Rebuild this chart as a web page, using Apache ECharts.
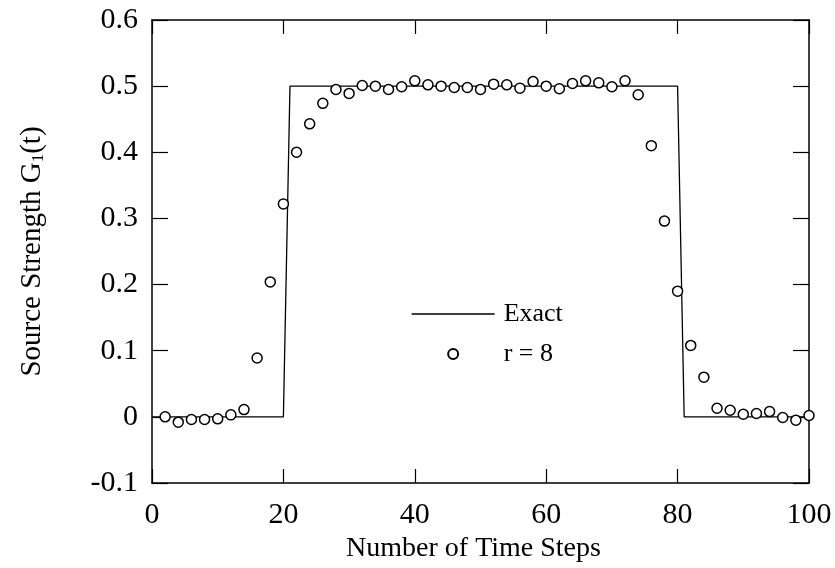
<!DOCTYPE html>
<html>
<head>
<meta charset="utf-8">
<script src="https://cdn.jsdelivr.net/npm/echarts@6/dist/echarts.min.js"></script>
<style>
  html, body { margin: 0; padding: 0; background: #fff; }
  #chart { width: 835px; height: 568px; }
</style>
</head>
<body>
<div id="chart"></div>
<script>
// ---- Data ----
const exactX = [0, 20, 21, 80, 81, 100];
const exactY = [0, 0, 0.5, 0.5, 0, 0];

const stepX = [2, 4, 6, 8, 10, 12, 14, 16, 18, 20,
               22, 24, 26, 28, 30, 32, 34, 36, 38, 40,
               42, 44, 46, 48, 50, 52, 54, 56, 58, 60,
               62, 64, 66, 68, 70, 72, 74, 76, 78, 80,
               82, 84, 86, 88, 90, 92, 94, 96, 98, 100];
const r8Y = [0.000, -0.008, -0.004, -0.004, -0.003, 0.003, 0.011, 0.089, 0.204, 0.322,
             0.400, 0.443, 0.474, 0.495, 0.489, 0.501, 0.500, 0.495, 0.499, 0.508,
             0.502, 0.500, 0.498, 0.498, 0.495, 0.503, 0.502, 0.497, 0.507, 0.500,
             0.496, 0.504, 0.508, 0.505, 0.499, 0.508, 0.487, 0.410, 0.296, 0.190,
             0.108, 0.060, 0.013, 0.010, 0.004, 0.005, 0.008, -0.001, -0.005, 0.002];

const xTickLabels = ['0', '20', '40', '60', '80', '100'];
const yTickLabels = ['-0.1', '0', '0.1', '0.2', '0.3', '0.4', '0.5', '0.6'];

const seriesNames = ['Exact', 'r = 8'];
const xAxisTitle = 'Number of Time Steps';
const yAxisTitle = '{a|Source Strength G}{s|1}{a|(t)}';

// ---- Chart ----
const FONT = 'Liberation Serif';
const chart = echarts.init(document.getElementById('chart'));

const exactData = exactX.map((x, i) => [x, exactY[i]]);
const r8Data = stepX.map((x, i) => [x, r8Y[i]]);

const axisLine = { show: true, onZero: false, lineStyle: { color: '#000', width: 1.5 } };
const xTickFmt = v => xTickLabels[Math.round(v / 20)];
const yTickFmt = v => yTickLabels[Math.round((v + 0.1) / 0.1)];

chart.setOption({
  animation: false,
  backgroundColor: '#fff',
  grid: { left: 152, right: 26, top: 20, bottom: 85, containLabel: false },
  legend: {
    orient: 'vertical',
    left: 411,
    top: 301,
    padding: 0,
    itemWidth: 83,
    itemHeight: 10,
    itemGap: 14,
    textStyle: { fontFamily: FONT, fontSize: 26, color: '#000', lineHeight: 25, padding: [0, 0, 0, 4] },
    data: [
      { name: seriesNames[0], itemStyle: { opacity: 0 }, lineStyle: { color: '#000', width: 1.3, opacity: 1 } },
      { name: seriesNames[1] }
    ]
  },
  xAxis: [{
    type: 'value', min: 0, max: 100, interval: 20, position: 'bottom',
    axisLine: axisLine,
    axisTick: { show: true, inside: true, length: 14, lineStyle: { color: '#000', width: 1.2 } },
    axisLabel: { fontFamily: FONT, fontSize: 30, color: '#000', margin: 17, formatter: xTickFmt },
    splitLine: { show: false },
    name: xAxisTitle, nameLocation: 'middle', nameGap: 50,
    nameTextStyle: { fontFamily: FONT, fontSize: 28, color: '#000', padding: [0, 14, 0, 0] }
  }, {
    type: 'value', min: 0, max: 100, interval: 20, position: 'top',
    axisLine: axisLine,
    axisTick: { show: true, inside: true, length: 14, lineStyle: { color: '#000', width: 1.2 } },
    axisLabel: { show: false },
    splitLine: { show: false }
  }],
  yAxis: [{
    type: 'value', min: -0.1, max: 0.6, interval: 0.1, position: 'left',
    axisLine: axisLine,
    axisTick: { show: true, inside: true, length: 16, lineStyle: { color: '#000', width: 1.2 } },
    axisLabel: { fontFamily: FONT, fontSize: 30, color: '#000', margin: 14, formatter: yTickFmt },
    splitLine: { show: false },
    name: yAxisTitle, nameLocation: 'middle', nameGap: 105, nameRotate: 90,
    nameTextStyle: {
      color: '#000',
      rich: {
        a: { fontFamily: FONT, fontSize: 29, color: '#000', lineHeight: 29 },
        s: { fontFamily: FONT, fontSize: 17, color: '#000', lineHeight: 17, padding: [13, 0, 0, 0] }
      }
    }
  }, {
    type: 'value', min: -0.1, max: 0.6, interval: 0.1, position: 'right',
    axisLine: axisLine,
    axisTick: { show: true, inside: true, length: 16, lineStyle: { color: '#000', width: 1.2 } },
    axisLabel: { show: false },
    splitLine: { show: false }
  }],
  series: [{
    name: seriesNames[0],
    type: 'line',
    data: exactData,
    symbol: 'none',
    lineStyle: { color: '#000', width: 1.3 },
    itemStyle: { color: '#000' },
    z: 2
  }, {
    name: seriesNames[1],
    type: 'scatter',
    data: r8Data,
    symbol: 'circle',
    symbolSize: 10,
    itemStyle: { color: '#fff', borderColor: '#000', borderWidth: 1.5, opacity: 1 },
    z: 3
  }]
});
</script>
</body>
</html>
